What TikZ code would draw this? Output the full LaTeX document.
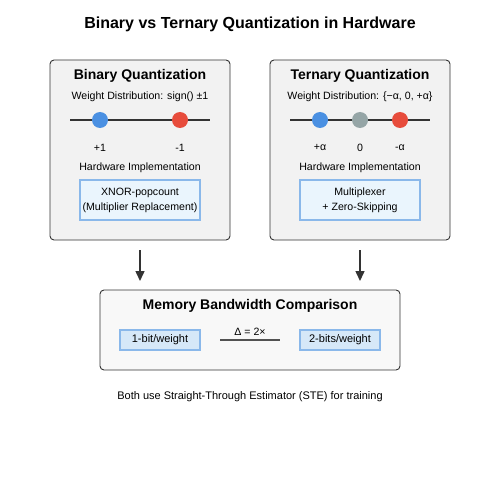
\documentclass[tikz,border=0pt]{standalone}
\usepackage{fontspec}
\setmainfont{Liberation Sans}
\usetikzlibrary{arrows.meta}
\definecolor{panelfill}{HTML}{F2F2F2}
\definecolor{panelline}{HTML}{333333}
\definecolor{hwfill}{HTML}{EAF5FD}
\definecolor{hwline}{HTML}{8AB8EA}
\definecolor{bitfill}{HTML}{D6E8F8}
\definecolor{dotblue}{HTML}{4A90E2}
\definecolor{dotred}{HTML}{E74C3C}
\definecolor{dotgray}{HTML}{95A5A6}
\definecolor{memfill}{HTML}{F8F8F8}
\tikzset{
  panel/.style={draw=panelline, fill=panelfill, rounded corners=4pt, line width=0.9pt},
  hwbox/.style={draw=hwline, fill=hwfill, line width=1.2pt, align=center, inner sep=1pt, font=\fontsize{10.6}{15}\selectfont},
  bitbox/.style={draw=hwline, fill=bitfill, line width=1.2pt, font=\fontsize{11}{13}\selectfont},
  ttl/.style={font=\bfseries\fontsize{14}{16}\selectfont},
  txt/.style={font=\fontsize{10.6}{12}\selectfont},
  dot/.style={circle, minimum size=16pt, inner sep=0pt},
  axis/.style={draw=panelline, line width=1.8pt},
  flow/.style={-{Triangle[length=10pt,width=9pt]}, draw=panelline, line width=1.5pt}
}
\begin{document}
\begin{tikzpicture}[x=1pt,y=-1pt]
\useasboundingbox (0,0) rectangle (500,500);
\fill[white] (0,0) rectangle (500,500);
\node[font=\bfseries\fontsize{16}{18}\selectfont] (title) at (250,24.5) {Binary vs Ternary Quantization in Hardware};
% left panel
\draw[panel] (50,60) rectangle (230,240);
\coordinate (lbot) at (140,250);
\node[ttl] (lt) at (140,76) {Binary Quantization};
\node[txt] (ld) at (140,97) {Weight Distribution: sign() ±1};
\coordinate (la) at (70,120); \coordinate (lb) at (210,120);
\draw[axis] (la) -- (lb);
\node[dot, fill=dotblue] (lp) at (100,120) {};
\node[dot, fill=dotred] (lm) at (180,120) {};
\node[txt] (lpl) at (100,147.5) {+1};
\node[txt] (lml) at (180,147.5) {-1};
\node[txt] (lh) at (140,167.5) {Hardware Implementation};
\node[hwbox, minimum width=120pt, minimum height=40pt] (lhw) at (140,200) {XNOR-popcount\\(Multiplier Replacement)};
% right panel
\draw[panel] (270,60) rectangle (450,240);
\coordinate (rbot) at (360,250);
\node[ttl] (rt) at (360,76) {Ternary Quantization};
\node[txt] (rd) at (360,97) {Weight Distribution: \{−α, 0, +α\}};
\coordinate (ra) at (290,120); \coordinate (rb) at (430,120);
\draw[axis] (ra) -- (rb);
\node[dot, fill=dotblue] (rp) at (320,120) {};
\node[dot, fill=dotgray] (rz) at (360,120) {};
\node[dot, fill=dotred] (rm) at (400,120) {};
\node[txt] (rpl) at (320,147.5) {+α};
\node[txt] (rzl) at (360,147.5) {0};
\node[txt] (rml) at (400,147.5) {-α};
\node[txt] (rh) at (360,167.5) {Hardware Implementation};
\node[hwbox, minimum width=120pt, minimum height=40pt] (rhw) at (360,200) {Multiplexer\\+ Zero-Skipping};
% arrows
\coordinate (ltip) at (140,281);
\coordinate (rtip) at (360,281);
\draw[flow] (lbot) -- (ltip);
\draw[flow] (rbot) -- (rtip);
% memory
\draw[panel, fill=memfill] (100,290) rectangle (400,370);
\node[ttl] (mt) at (250,306) {Memory Bandwidth Comparison};
\node[bitbox, minimum width=80pt, minimum height=20pt] (b1) at (160,340) {1-bit/weight};
\node[bitbox, minimum width=80pt, minimum height=20pt] (b2) at (340,340) {2-bits/weight};
\coordinate (da) at (220,340); \coordinate (db) at (280,340);
\draw[draw=panelline!85, line width=1.6pt] (da) -- (db);
\node[txt] (delta) at (250,331.5) {Δ = 2×};
\node[font=\fontsize{11}{13}\selectfont] (foot) at (250,397) {Both use Straight-Through Estimator (STE) for training};
\end{tikzpicture}
\end{document}
